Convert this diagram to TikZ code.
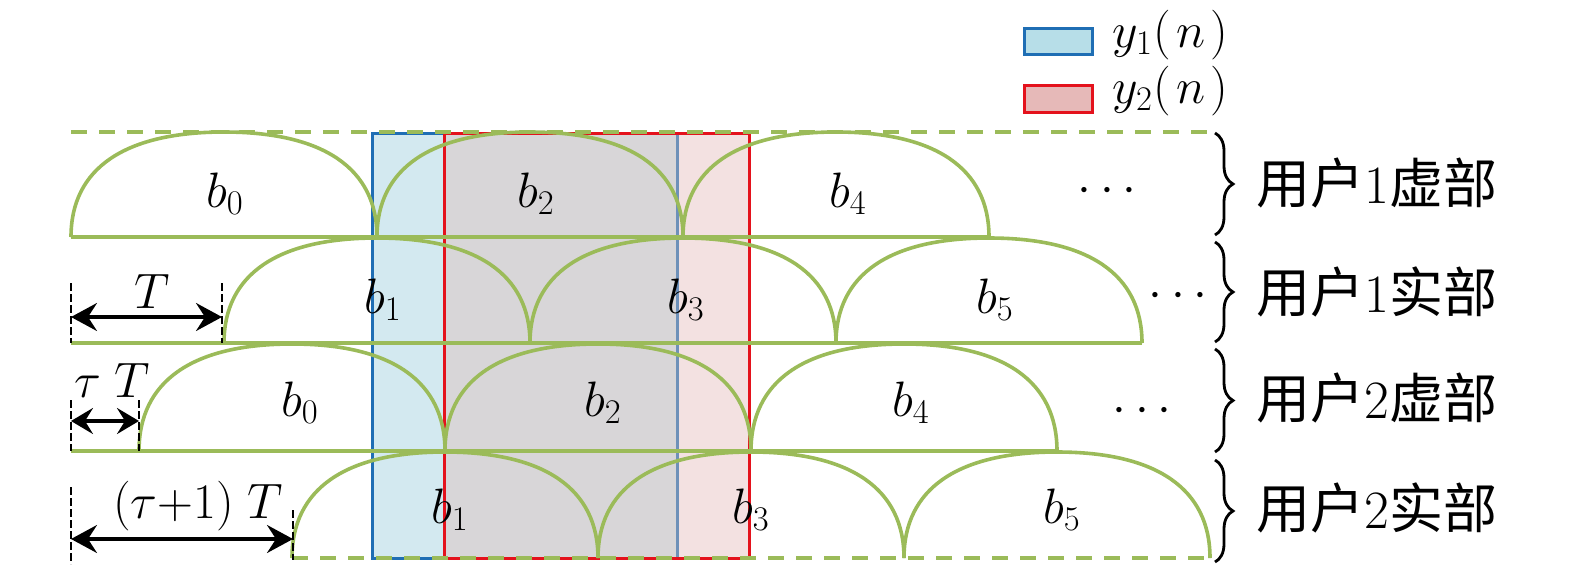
\documentclass[tikz,border=0pt]{standalone}
\usepackage{fontspec}
\newfontfamily\cjk{Noto Sans CJK SC}
\usetikzlibrary{arrows.meta,decorations.pathreplacing}
\DeclareMathSizes{25}{25}{16}{12}
\DeclareMathSizes{26}{26}{17}{13}
\DeclareMathSizes{28}{28}{18}{14}
\definecolor{ag}{HTML}{9BBB59}
\definecolor{bedgec}{RGB}{31,110,180}
\definecolor{bedgeb}{RGB}{110,145,185}
\definecolor{redgec}{RGB}{228,18,28}
\definecolor{bfillc}{RGB}{211,233,240}
\definecolor{ofillc}{RGB}{216,214,216}
\definecolor{rfillc}{RGB}{243,225,225}
\definecolor{legblue}{HTML}{B7DEE8}
\definecolor{legred}{HTML}{E6B9B8}
\newcommand\archAt[3]{%
  \draw[archline] (#1,#2) .. controls (#1,#2-0.65*#3) and (#1+53,#2-#3) .. (#1+153,#2-#3)
     .. controls (#1+253,#2-#3) and (#1+306,#2-0.65*#3) .. (#1+306,#2);}
\begin{document}
\begin{tikzpicture}[x=0.5pt,y=-0.5pt,
  archline/.style={draw=ag,line width=1.8pt},
  gdash/.style={draw=ag,line width=1.8pt,dash pattern=on 8pt off 6pt},
  guide/.style={draw=black,line width=1.1pt,dash pattern=on 4pt off 1.5pt},
  dimarrow/.style={{Stealth[length=13pt,width=14pt,inset=4.5pt]}-{Stealth[length=13pt,width=14pt,inset=4.5pt]},line width=1.6pt},
  smallarrow/.style={{Stealth[length=11pt,width=13pt,inset=4pt]}-{Stealth[length=11pt,width=13pt,inset=4pt]},line width=1.6pt},
  blbl/.style={inner sep=0pt,anchor=base,font=\fontsize{25}{30}\selectfont},
  dlbl/.style={inner sep=0pt,anchor=base,font=\fontsize{26}{30}\selectfont},
  cnlbl/.style={inner sep=0pt,anchor=west,font=\fontsize{27}{32}\selectfont},
  leglbl/.style={inner sep=0pt,anchor=base west,font=\fontsize{26}{30}\selectfont},
  bracestyle/.style={draw=black,line width=1.4pt,decorate,decoration={brace,amplitude=9pt}}]
\useasboundingbox (0,0) rectangle (1575,564);
% shaded windows
\fill[bfillc] (372,133) rectangle (444,558);
\fill[ofillc] (444,133) rectangle (677,558);
\fill[rfillc] (677,133) rectangle (749,558);
\draw[bedgec,line width=1.5pt] (444,133) -- (372,133) -- (372,558) -- (444,558);
\draw[bedgeb,line width=1.5pt] (677,133) -- (677,558);
\draw[redgec,line width=1.5pt] (444,133) rectangle (749,558);
% base lines
\draw[archline] (71,237) -- (989,237);
\draw[archline] (71,343) -- (1142,343);
\draw[archline] (71,451) -- (1057,451);
\draw[gdash] (71,132) -- (1208,132);
\draw[gdash] (292,558) -- (1210,558);
% arches
\archAt{71}{237}{105}\archAt{377}{237}{105}\archAt{683}{237}{105}
\archAt{224}{343}{105}\archAt{530}{343}{105}\archAt{836}{343}{105}
\archAt{139}{451}{107}\archAt{445}{451}{107}\archAt{751}{451}{107}
\archAt{292}{558}{106}\archAt{598}{558}{106}\archAt{904}{558}{106}
% symbol labels
\node[blbl] (r1b0) at (225,207) {$b_0$};
\node[blbl] (r1b2) at (536,207) {$b_2$};
\node[blbl] (r1b4) at (848,207) {$b_4$};
\node[blbl] (r1d) at (1107,202) {$\cdots$};
\node[blbl] (r2b1) at (383,313) {$b_1$};
\node[blbl] (r2b3) at (686,313) {$b_3$};
\node[blbl] (r2b5) at (995,313) {$b_5$};
\node[blbl] (r2d) at (1178,307) {$\cdots$};
\node[blbl] (r3b0) at (300,416) {$b_0$};
\node[blbl] (r3b2) at (603,416) {$b_2$};
\node[blbl] (r3b4) at (911,416) {$b_4$};
\node[blbl] (r3d) at (1142,422) {$\cdots$};
\node[blbl] (r4b1) at (450,523) {$b_1$};
\node[blbl] (r4b3) at (751,523) {$b_3$};
\node[blbl] (r4b5) at (1062,523) {$b_5$};
% dimension guides
\coordinate (g1a) at (71,283); \coordinate (g1b) at (71,343);
\coordinate (g2a) at (222,283); \coordinate (g2b) at (222,343);
\coordinate (g3a) at (71,400); \coordinate (g3b) at (71,451);
\coordinate (g4a) at (139,400); \coordinate (g4b) at (139,451);
\coordinate (g5a) at (71,487); \coordinate (g5b) at (71,564);
\coordinate (g6a) at (293,510); \coordinate (g6b) at (293,560);
\draw[guide] (g1a) -- (g1b); \draw[guide] (g2a) -- (g2b);
\draw[guide] (g3a) -- (g3b); \draw[guide] (g4a) -- (g4b);
\draw[guide] (g5a) -- (g5b); \draw[guide] (g6a) -- (g6b);
\coordinate (a1l) at (71,317); \coordinate (a1r) at (222,317);
\coordinate (a2l) at (71,421); \coordinate (a2r) at (139,421);
\coordinate (a3l) at (71,539); \coordinate (a3r) at (293,539);
\draw[dimarrow] (a1l) -- (a1r);
\draw[smallarrow] (a2l) -- (a2r);
\draw[dimarrow] (a3l) -- (a3r);
\node[dlbl] (lT) at (152,308) {$T$};
\node[dlbl] (ltT) at (112,397) {$\tau\;T$};
\node[dlbl,font=\fontsize{28}{32}\selectfont] (ltpT) at (198,518) {$(\tau{+}1)\;T$};
% braces
\draw[bracestyle] (1215,133) -- (1215,235);
\draw[bracestyle] (1215,242) -- (1215,342);
\draw[bracestyle] (1215,349) -- (1215,452);
\draw[bracestyle] (1215,460) -- (1215,562);
\node[cnlbl] (u1i) at (1256,183) {{\cjk 用户}1{\cjk 虚部}};
\node[cnlbl] (u1r) at (1256,292) {{\cjk 用户}1{\cjk 实部}};
\node[cnlbl] (u2i) at (1256,398) {{\cjk 用户}2{\cjk 虚部}};
\node[cnlbl] (u2r) at (1256,508) {{\cjk 用户}2{\cjk 实部}};
% legend
\draw[bedgec,line width=1.5pt,fill=legblue] (1024,28) rectangle (1092,54);
\draw[redgec,line width=1.5pt,fill=legred] (1024,85) rectangle (1092,112);
\node[leglbl] (l1) at (1112,47) {$y_1(\mkern2mu n\mkern2mu)$};
\node[leglbl] (l2) at (1112,103) {$y_2(\mkern2mu n\mkern2mu)$};
\end{tikzpicture}
\end{document}
